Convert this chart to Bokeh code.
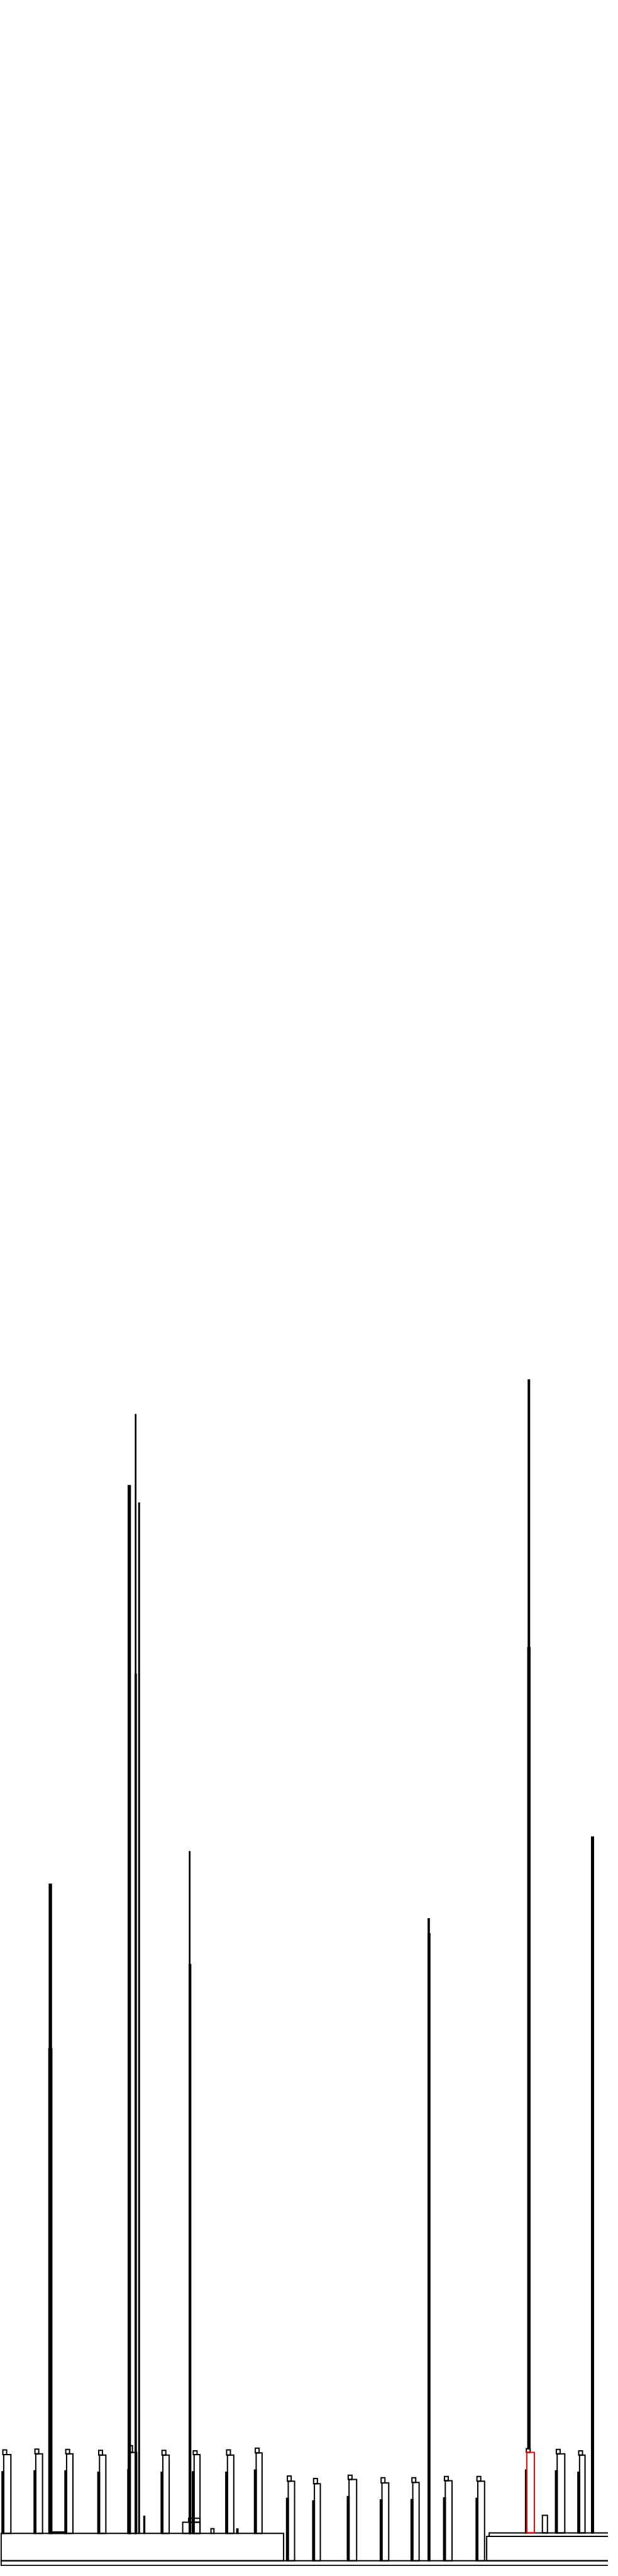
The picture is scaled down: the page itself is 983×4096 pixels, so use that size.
from bokeh.plotting import figure
from bokeh.models import ColumnDataSource, Range1d
from bokeh.embed import file_html
from bokeh.resources import INLINE

# ---- data (sample offsets on x, stack depth value on y) ----
# base frames
base_start = [2, 2, 1152, 1158]
base_end = [1450, 671, 1450, 1450]
base_low = [2, 13, 13, 70]
base_high = [13, 77, 70, 78]

# towers: start, end, base level, body top, cap top
tower_start = [4, 80, 153, 231, 302, 381, 455, 534, 602,
               678, 740, 822, 900, 973, 1050, 1127,
               1315, 1368]
tower_end = [25, 100, 172, 250, 323, 400, 473, 553, 620,
             697, 758, 844, 920, 992, 1070, 1147,
             1337, 1385]
tower_base = [77] * 9 + [13] * 7 + [78] * 2
tower_top = [261, 263, 263, 260, 266, 260, 261, 260, 265,
             199, 193, 203, 195, 196, 200, 199,
             263, 260]
tower_cap = [272, 274, 273, 271, 282, 271, 270, 272, 276,
             211, 205, 213, 207, 207, 210, 210,
             273, 270]

# tall narrow stacks
spike_start = [116, 115, 303, 320, 319.5, 328, 448, 447.5,
               1013.5, 1013.5, 1250.5, 1249.5, 1400.5, 340]
spike_end = [121, 122, 308, 321, 322, 329.5, 449, 451,
             1016, 1017.5, 1253.5, 1254.5, 1405, 342]
spike_low = [77, 77, 77, 77, 77, 77, 77, 77,
             13, 13, 275, 275, 78, 77]
spike_high = [1595, 1210, 2527, 2693, 2086, 2486, 1671, 1407,
              1514, 1479, 2774, 2148, 1705, 117]

# small frames
small_start = [432, 446, 499, 560, 123, 1284, 1244]
small_end = [473, 473, 506, 563, 155, 1296, 1247]
small_low = [77, 103, 77, 77, 77, 78, 78]
small_high = [103, 112, 88, 87, 80, 119, 225]

# highlighted frame
hl_start = [1247]
hl_end = [1265]
hl_low = [78]
hl_high = [266]
hl_cap_start = [1246]
hl_cap_end = [1255]
hl_cap_high = [275]

# ---- build ----
p = figure(width=967, height=4080, output_backend="svg", toolbar_location=None,
           x_range=Range1d(0, 1440), y_range=Range1d(0, 6000),
           min_border=0)
p.axis.visible = False
p.grid.visible = False
p.outline_line_color = None
p.background_fill_color = "white"

style = dict(fill_alpha=0, line_color="black", line_width=2, line_join="miter")

p.quad(left=base_start, right=base_end, bottom=base_low, top=base_high, **style)

# tower bodies, caps and left edges
body_l = [s + 4 for s in tower_start]
cap_l = [s + 2 for s in tower_start]
cap_r = [s + 11 for s in tower_start]
edge_r = [s + 4 for s in tower_start]
edge_t = [t - 40 for t in tower_top]
p.quad(left=body_l, right=tower_end, bottom=tower_base, top=tower_top, **style)
p.quad(left=cap_l, right=cap_r, bottom=tower_top, top=tower_cap, **style)
p.quad(left=tower_start, right=edge_r, bottom=tower_base, top=edge_t,
       fill_color="black", fill_alpha=1, line_color="black", line_width=2,
       line_join="miter")

spikes = ColumnDataSource(dict(left=spike_start, right=spike_end,
                               bottom=spike_low, top=spike_high))
p.quad(left="left", right="right", bottom="bottom", top="top", source=spikes,
       fill_color="black", fill_alpha=1, line_color="black", line_width=2,
       line_join="miter")
p.quad(left=small_start, right=small_end, bottom=small_low, top=small_high, **style)

p.quad(left=hl_cap_start, right=hl_cap_end, bottom=hl_high, top=hl_cap_high, **style)
p.quad(left=hl_start, right=hl_end, bottom=hl_low, top=hl_high,
       fill_alpha=0, line_color="red", line_width=2, line_join="miter")

open("out.html", "w").write(file_html(p, INLINE))
